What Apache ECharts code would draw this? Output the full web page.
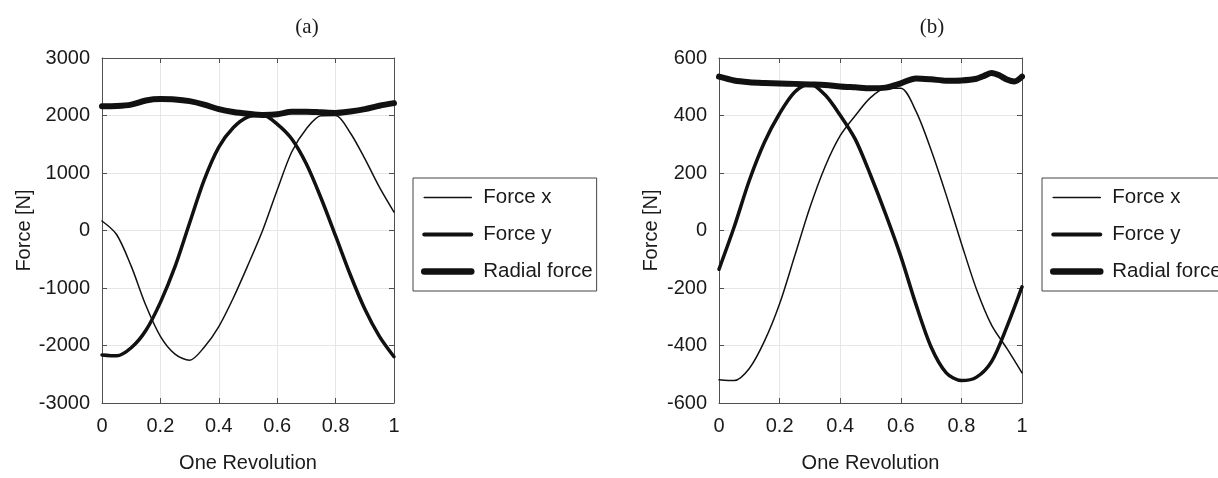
<!DOCTYPE html>
<html>
<head>
<meta charset="utf-8">
<script src="https://cdn.jsdelivr.net/npm/echarts@6/dist/echarts.min.js"></script>
<style>
  html, body { margin: 0; padding: 0; background: #fff; }
  #main { width: 1218px; height: 478px; }
</style>
</head>
<body>
<div id="main"></div>
<script>
// one revolution, sampled positions
var revolution = [0, 0.05, 0.1, 0.15, 0.2, 0.25, 0.3, 0.35, 0.4, 0.45, 0.5,
    0.55, 0.6, 0.65, 0.7, 0.75, 0.8, 0.85, 0.9, 0.95, 1];

// (a)
var forceXA = [165, -70, -620, -1300, -1840, -2150, -2255, -2030, -1670, -1170, -600,
    0, 705, 1370, 1770, 1995, 2000, 1700, 1250, 755, 320];
var forceYA = [-2165, -2180, -2040, -1740, -1250, -630, 130, 880, 1450, 1790, 1975,
    2010, 1850, 1590, 1155, 565, -95, -765, -1365, -1840, -2195];
var radialA = [2160, 2165, 2190, 2260, 2285, 2280, 2250, 2190, 2110, 2060, 2030,
    2010, 2020, 2065, 2065, 2055, 2045, 2070, 2110, 2170, 2215];

// (b)
var forceXB = [-519, -522, -480, -385, -255, -88, 80, 222, 330, 400, 462,
    495, 495, 415, 280, 123, -45, -205, -330, -410, -495];
var forceYB = [-135, 12, 174, 307, 407, 482, 510, 472, 401, 317, 193,
    57, -90, -257, -405, -495, -522, -510, -455, -335, -196];
var radialRevB = [0, 0.05, 0.1, 0.15, 0.2, 0.25, 0.3, 0.35, 0.4, 0.45, 0.5, 0.55,
    0.6, 0.65, 0.7, 0.75, 0.8, 0.85, 0.875, 0.9, 0.925, 0.95, 0.975, 1];
var radialB = [535, 522, 516, 513, 511, 510, 508, 506, 501, 498, 495, 497,
    512, 529, 526, 521, 522, 528, 538, 548, 540, 525, 518, 535];

var xTicks = ['0', '0.2', '0.4', '0.6', '0.8', '1'];

var font = 'Liberation Sans, Arial, sans-serif';
var ink = '#1a1a1a';
var boxColor = '#505050';
var noMarker = { color: 'rgba(0,0,0,0)', borderColor: 'rgba(0,0,0,0)', borderWidth: 0 };

function pairs(xs, ys) {
    return xs.map(function (x, i) { return [x, ys[i]]; });
}

function xAxisFor(gridIndex, pos) {
    var main = pos === 'bottom';
    return {
        gridIndex: gridIndex,
        type: 'value',
        position: pos,
        min: 0,
        max: 1,
        interval: 0.2,
        name: main ? 'One Revolution' : '',
        nameLocation: 'middle',
        nameGap: 50,
        nameTextStyle: { fontFamily: font, fontSize: 20, color: ink },
        axisLine: { show: true, onZero: false, lineStyle: { color: boxColor, width: 1 } },
        axisTick: { show: true, inside: true, length: 5, lineStyle: { color: boxColor } },
        axisLabel: {
            show: main,
            margin: 13,
            fontFamily: font,
            fontSize: 20,
            color: ink,
            formatter: function (v) { return xTicks[Math.round(v / 0.2)]; }
        },
        splitLine: { show: main, lineStyle: { color: '#e6e6e6', width: 1 } }
    };
}

function yAxisFor(gridIndex, pos, lim, step, gap) {
    var main = pos === 'left';
    return {
        gridIndex: gridIndex,
        type: 'value',
        position: pos,
        min: -lim,
        max: lim,
        interval: step,
        name: main ? 'Force [N]' : '',
        nameLocation: 'middle',
        nameGap: gap,
        nameTextStyle: { fontFamily: font, fontSize: 20, color: ink },
        axisLine: { show: true, onZero: false, lineStyle: { color: boxColor, width: 1 } },
        axisTick: { show: true, inside: true, length: 5, lineStyle: { color: boxColor } },
        axisLabel: {
            show: main,
            margin: 12,
            fontFamily: font,
            fontSize: 20,
            color: ink,
            formatter: function (v) { return String(v); }
        },
        splitLine: { show: main, lineStyle: { color: '#e6e6e6', width: 1 } }
    };
}

function legendAt(left) {
    return {
        orient: 'vertical',
        left: left,
        top: 178,
        padding: [9, 4, 9, 8],
        itemGap: 16,
        itemWidth: 47,
        itemHeight: 20,
        borderColor: '#444',
        borderWidth: 1,
        borderRadius: 0,
        backgroundColor: '#fff',
        selectedMode: false,
        itemStyle: noMarker,
        textStyle: { fontFamily: font, fontSize: 20.5, color: ink, padding: [0, 0, 0, 7] },
        data: [
            { name: 'Force x', itemStyle: noMarker, lineStyle: { width: 1.6, color: '#111' } },
            { name: 'Force y', itemStyle: noMarker, lineStyle: { width: 4, color: '#111' } },
            { name: 'Radial force', itemStyle: noMarker, lineStyle: { width: 6.5, color: '#111' } }
        ]
    };
}

function line(name, data, width, xi, yi) {
    return {
        name: name,
        type: 'line',
        xAxisIndex: xi,
        yAxisIndex: yi,
        data: data,
        symbol: 'none',
        smooth: 0.3,
        animation: false,
        lineStyle: { color: '#111', width: width, cap: 'round', join: 'round' },
        itemStyle: { color: '#111' }
    };
}

var dom = document.getElementById('main');
var myChart = echarts.init(dom, null, { renderer: 'canvas' });

var option = {
    backgroundColor: '#fff',
    animation: false,
    title: [
        { text: '(a)', left: 302, top: 12, textAlign: 'center',
          textStyle: { fontFamily: 'Liberation Serif, Times New Roman, serif', fontWeight: 'normal', fontSize: 21, color: ink } },
        { text: '(b)', left: 927, top: 12, textAlign: 'center',
          textStyle: { fontFamily: 'Liberation Serif, Times New Roman, serif', fontWeight: 'normal', fontSize: 21, color: ink } }
    ],
    legend: [legendAt(413), legendAt(1042)],
    grid: [
        { left: 102, top: 58, width: 292, height: 349 },
        { left: 719, top: 58, width: 303, height: 349 }
    ],
    xAxis: [
        xAxisFor(0, 'bottom'), xAxisFor(0, 'top'),
        xAxisFor(1, 'bottom'), xAxisFor(1, 'top')
    ],
    yAxis: [
        yAxisFor(0, 'left', 3000, 1000, 68), yAxisFor(0, 'right', 3000, 1000, 0),
        yAxisFor(1, 'left', 600, 200, 58), yAxisFor(1, 'right', 600, 200, 0)
    ],
    series: [
        line('Force x', pairs(revolution, forceXA), 1.5, 0, 0),
        line('Force y', pairs(revolution, forceYA), 3.5, 0, 0),
        line('Radial force', pairs(revolution, radialA), 6, 0, 0),
        line('Force x', pairs(revolution, forceXB), 1.5, 2, 2),
        line('Force y', pairs(revolution, forceYB), 3.5, 2, 2),
        line('Radial force', pairs(radialRevB, radialB), 6, 2, 2)
    ]
};

myChart.setOption(option);
window.addEventListener('resize', myChart.resize);
</script>
</body>
</html>
